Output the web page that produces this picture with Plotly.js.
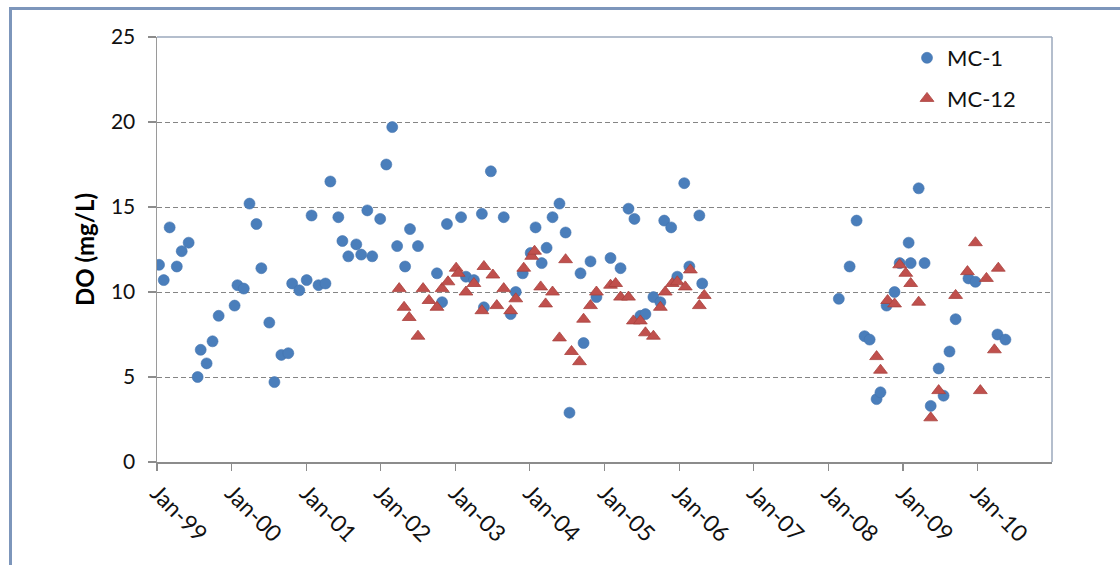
<!DOCTYPE html>
<html>
<head>
<meta charset="utf-8">
<script src="https://cdn.plot.ly/plotly-3.0.1.min.js"></script>
<style>
  html, body { margin: 0; padding: 0; background: #ffffff; overflow: hidden; }
  #wrap { position: relative; width: 1120px; height: 565px; }
  #chart { position: absolute; left: 0; top: 0; width: 1120px; height: 565px; }
  #frame { position: absolute; left: 9px; top: 7px; width: 1200px; height: 700px;
           border: 3px solid #7d96bb; pointer-events: none; }
</style>
</head>
<body>
<div id="wrap">
  <div id="chart"></div>
  <div id="frame"></div>
</div>
<script>
// Dissolved oxygen, station MC-1
const mc1Dates = [
  '1999-01-11','1999-02-03','1999-03-04','1999-04-08','1999-05-02','1999-06-05','1999-07-19','1999-08-03',
  '1999-09-01','1999-09-30','1999-10-30','2000-01-16','2000-01-30','2000-03-01','2000-03-29','2000-05-02',
  '2000-05-26','2000-07-04','2000-07-29','2000-09-01','2000-10-05','2000-10-24','2000-11-28','2001-01-03',
  '2001-01-27','2001-03-02','2001-04-05','2001-04-29','2001-06-07','2001-06-27','2001-07-26','2001-09-03',
  '2001-09-27','2001-10-27','2001-11-20','2001-12-29','2002-01-28','2002-02-26','2002-03-22','2002-04-30',
  '2002-05-24','2002-07-02','2002-10-03','2002-10-28','2002-11-21','2003-01-29','2003-02-22','2003-04-02',
  '2003-05-11','2003-05-21','2003-06-24','2003-08-26','2003-09-29','2003-10-24','2003-11-27','2004-01-05',
  '2004-01-29','2004-02-28','2004-03-23','2004-04-21','2004-05-25','2004-06-24','2004-07-13','2004-09-05',
  '2004-09-20','2004-10-24','2004-11-22','2005-01-30','2005-03-20','2005-04-28','2005-05-27','2005-06-25',
  '2005-07-20','2005-08-28','2005-10-01','2005-10-20','2005-11-23','2005-12-23','2006-01-26','2006-02-20',
  '2006-04-10','2006-04-24','2008-02-22','2008-04-15','2008-05-19','2008-06-27','2008-07-22','2008-08-25',
  '2008-09-13','2008-10-13','2008-11-21','2008-12-16','2009-01-29','2009-02-08','2009-03-19','2009-04-17',
  '2009-05-17','2009-06-25','2009-07-19','2009-08-17','2009-09-16','2009-11-18','2009-12-22','2010-04-09',
  '2010-05-18'
];
const mc1DO = [
  11.6, 10.7, 13.8, 11.5, 12.4, 12.9, 5.0, 6.6,
  5.8, 7.1, 8.6, 9.2, 10.4, 10.2, 15.2, 14.0,
  11.4, 8.2, 4.7, 6.3, 6.4, 10.5, 10.1, 10.7,
  14.5, 10.4, 10.5, 16.5, 14.4, 13.0, 12.1, 12.8,
  12.2, 14.8, 12.1, 14.3, 17.5, 19.7, 12.7, 11.5,
  13.7, 12.7, 11.1, 9.4, 14.0, 14.4, 10.9, 10.7,
  14.6, 9.1, 17.1, 14.4, 8.7, 10.0, 11.1, 12.3,
  13.8, 11.7, 12.6, 14.4, 15.2, 13.5, 2.9, 11.1,
  7.0, 11.8, 9.7, 12.0, 11.4, 14.9, 14.3, 8.6,
  8.7, 9.7, 9.4, 14.2, 13.8, 10.9, 16.4, 11.5,
  14.5, 10.5, 9.6, 11.5, 14.2, 7.4, 7.2, 3.7,
  4.1, 9.2, 10.0, 11.7, 12.9, 11.7, 16.1, 11.7,
  3.3, 5.5, 3.9, 6.5, 8.4, 10.8, 10.6, 7.5,
  7.2
];

// Dissolved oxygen, station MC-12
const mc12Dates = [
  '2002-04-01','2002-04-25','2002-05-20','2002-07-02','2002-07-27','2002-08-25','2002-10-03','2002-10-28',
  '2002-11-26','2003-01-05','2003-01-15','2003-02-22','2003-04-02','2003-05-11','2003-05-21','2003-07-04',
  '2003-07-23','2003-08-26','2003-09-29','2003-10-24','2003-12-02','2004-01-10','2004-01-24','2004-02-23',
  '2004-03-18','2004-04-21','2004-05-25','2004-06-24','2004-07-23','2004-08-31','2004-09-20','2004-10-24',
  '2004-11-22','2005-01-30','2005-02-24','2005-03-20','2005-04-28','2005-05-22','2005-06-25','2005-07-20',
  '2005-08-28','2005-10-01','2005-10-25','2005-11-28','2005-12-23','2006-01-31','2006-02-25','2006-04-10',
  '2006-05-04','2008-08-25','2008-09-13','2008-10-18','2008-11-21','2008-12-16','2009-01-15','2009-02-08',
  '2009-03-19','2009-05-17','2009-06-25','2009-09-16','2009-11-13','2009-12-22','2010-01-15','2010-02-14',
  '2010-03-25','2010-04-13'
];
const mc12DO = [
  10.2, 9.1, 8.5, 7.4, 10.2, 9.5, 9.1, 10.2,
  10.6, 11.4, 11.1, 10.0, 10.5, 8.9, 11.5, 11.0,
  9.2, 10.2, 8.9, 9.6, 11.4, 12.1, 12.4, 10.3,
  9.3, 10.0, 7.3, 11.9, 6.5, 5.9, 8.4, 9.2,
  10.0, 10.4, 10.5, 9.7, 9.7, 8.3, 8.3, 7.6,
  7.4, 9.1, 10.0, 10.5, 10.6, 10.3, 11.3, 9.2,
  9.8, 6.2, 5.4, 9.5, 9.3, 11.6, 11.1, 10.5,
  9.4, 2.6, 4.2, 9.8, 11.2, 12.9, 4.2, 10.8,
  6.6, 11.4
];

// Yearly tick marks on the date axis
const tickDates = ['1999-01-01','2000-01-01','2001-01-01','2002-01-01','2003-01-01','2004-01-01',
                   '2005-01-01','2006-01-01','2007-01-01','2008-01-01','2009-01-01','2010-01-01'];
const tickLabels = ['Jan-99','Jan-00','Jan-01','Jan-02','Jan-03','Jan-04',
                    'Jan-05','Jan-06','Jan-07','Jan-08','Jan-09','Jan-10'];
const yTicks = [0, 5, 10, 15, 20, 25];

const FONT = 'Lato, "Open Sans", sans-serif';

const traces = [
  {
    type: 'scatter', mode: 'markers', name: 'MC-1',
    x: mc1Dates, y: mc1DO,
    legendgroup: 'a',
    marker: { symbol: 'circle', size: 11, color: '#4a7ebb',
              line: { width: 0.6, color: '#4373ae' } }
  },
  {
    type: 'scatter', mode: 'markers', name: 'MC-12',
    x: mc12Dates, y: mc12DO,
    legendgroup: 'b',
    marker: { symbol: 'triangle-up', size: 12, color: '#c0504d',
              line: { width: 0.8, color: '#a8413e' } }
  }
];

const layout = {
  width: 1120, height: 565,
  margin: { l: 157, r: 68, t: 37, b: 103 },
  paper_bgcolor: 'rgba(0,0,0,0)',
  plot_bgcolor: '#ffffff',
  font: { family: FONT, color: '#111111' },
  showlegend: true,
  legend: {
    x: 0.838, y: 1.0, xanchor: 'left', yanchor: 'top',
    bgcolor: 'rgba(255,255,255,0)',
    font: { family: FONT, size: 22, color: '#111111' },
    traceorder: 'grouped', tracegroupgap: 9,
    itemclick: false
  },
  xaxis: {
    type: 'date',
    range: ['1999-01-01', '2011-01-01'],
    tickmode: 'array', tickvals: tickDates, ticktext: tickLabels,
    tickangle: 45,
    tickfont: { family: FONT, size: 23, color: '#111111' },
    ticks: 'outside', ticklen: 7, tickwidth: 1.2, tickcolor: '#8c8c8c',
    showline: true, linecolor: '#8c8c8c', linewidth: 1.5,
    showgrid: false, zeroline: false, fixedrange: true
  },
  yaxis: {
    range: [0, 25],
    tickmode: 'array', tickvals: yTicks,
    tickfont: { family: FONT, size: 21, color: '#111111' },
    ticks: 'outside', ticklen: 8, tickwidth: 1.2, tickcolor: '#8c8c8c',
    ticklabelstandoff: 8,
    showline: true, linecolor: '#9a9a9a', linewidth: 1.5,
    showgrid: true, gridcolor: '#858585', gridwidth: 1, griddash: '5px,3px',
    zeroline: false, fixedrange: true,
    title: { text: '<b>DO (mg/L)</b>', font: { family: FONT, size: 24, color: '#000000' }, standoff: 9 }
  },
  shapes: [
    // plot-area frame along the top and right edges
    { type: 'line', xref: 'paper', yref: 'paper', x0: 0, x1: 1, y0: 1, y1: 1,
      line: { color: '#9ba8bd', width: 1.5 } },
    { type: 'line', xref: 'paper', yref: 'paper', x0: 1, x1: 1, y0: 0, y1: 1,
      line: { color: '#9ba8bd', width: 1.5 } }
  ]
};

Plotly.newPlot('chart', traces, layout, { staticPlot: true, displayModeBar: false });
</script>
</body>
</html>
